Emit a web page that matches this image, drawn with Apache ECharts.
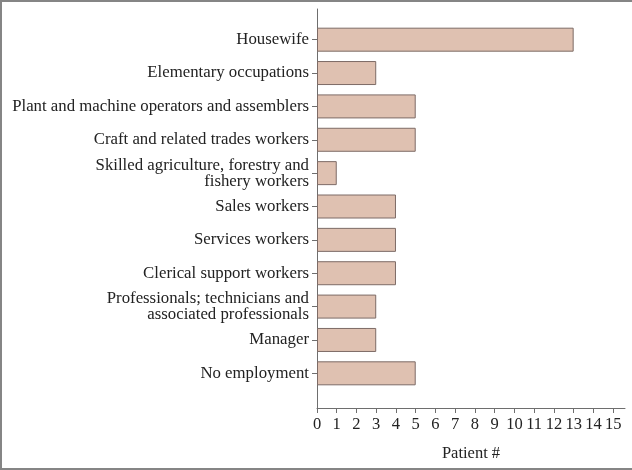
<!DOCTYPE html>
<html>
<head>
<meta charset="utf-8">
<script src="https://cdn.jsdelivr.net/npm/echarts@6/dist/echarts.min.js"></script>
<style>
  html, body { margin: 0; padding: 0; background: #fff; }
  #frame {
    position: absolute; left: 0; top: 0;
    width: 632px; height: 470px; box-sizing: border-box;
    border-top: 2px solid #858585; border-left: 2px solid #858585; border-bottom: 2px solid #858585;
  }
  #chart { position: absolute; left: 0; top: 0; width: 632px; height: 470px; }
</style>
</head>
<body>
<div id="frame"></div>
<div id="chart"></div>
<script>
// top to bottom as in the figure
const occupations = [
  'Housewife',
  'Elementary occupations',
  'Plant and machine operators and assemblers',
  'Craft and related trades workers',
  'Skilled agriculture, forestry and\nfishery workers',
  'Sales workers',
  'Services workers',
  'Clerical support workers',
  'Professionals; technicians and\nassociated professionals',
  'Manager',
  'No employment'
]
const patients = [13, 3, 5, 5, 1, 4, 4, 4, 3, 3, 5]
const xTicks = [0, 1, 2, 3, 4, 5, 6, 7, 8, 9, 10, 11, 12, 13, 14, 15]

const axisColor = '#6e6e6e'
const font = '"Liberation Serif", "DejaVu Serif", serif'
const xMax = 15.6

const chart = echarts.init(document.getElementById('chart'))

chart.setOption({
  animation: false,
  grid: [
    // bars
    { left: 317, right: 7, top: 23, bottom: 80 },
    // frame axes (longer than the bar band)
    { left: 317, right: 7, top: 9, bottom: 62 }
  ],
  xAxis: [
    {
      gridIndex: 0, type: 'value', min: 0, max: xMax, show: false
    },
    {
      gridIndex: 1, type: 'value', min: 0, max: xMax, interval: 1,
      name: 'Patient #', nameLocation: 'middle', nameGap: 37,
      nameTextStyle: { fontFamily: font, fontSize: 16.5, color: '#222' },
      axisLine: { lineStyle: { color: axisColor, width: 1 } },
      axisTick: { length: 5, lineStyle: { color: axisColor } },
      splitLine: { show: false },
      axisLabel: {
        fontFamily: font, fontSize: 16.5, color: '#222', margin: 8,
        showMaxLabel: false,
        formatter: v => (xTicks.includes(v) ? String(v) : '')
      }
    }
  ],
  yAxis: [
    {
      gridIndex: 0, type: 'category', inverse: true, data: occupations,
      axisLine: { show: false },
      axisTick: { show: true, length: 5, alignWithLabel: true, lineStyle: { color: axisColor } },
      axisLabel: {
        fontFamily: font, fontSize: 16.8, color: '#222', margin: 8,
        lineHeight: 16, align: 'right'
      }
    },
    {
      gridIndex: 1, type: 'value', min: 0, max: 1,
      axisLine: { show: true, lineStyle: { color: axisColor, width: 1 } },
      axisTick: { show: false }, axisLabel: { show: false }, splitLine: { show: false }
    }
  ],
  series: [
    {
      type: 'bar', xAxisIndex: 0, yAxisIndex: 0,
      data: patients,
      barWidth: 24,
      itemStyle: { color: '#dfc1b1', borderColor: '#7d6b66', borderWidth: 1 }
    }
  ]
})
</script>
</body>
</html>
